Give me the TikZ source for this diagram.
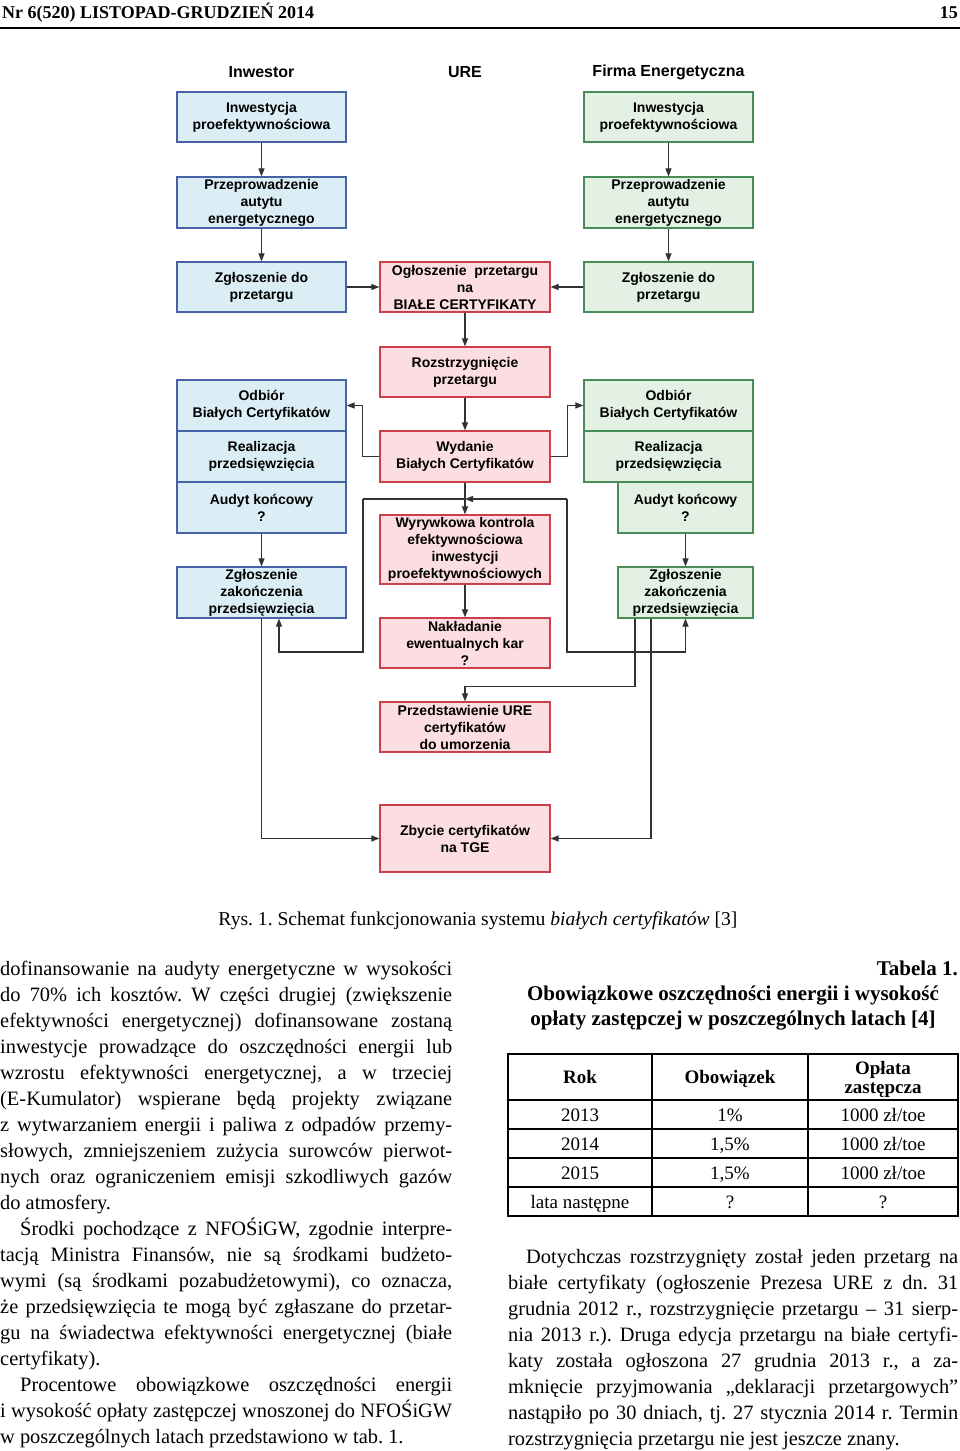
\documentclass[tikz,border=0pt]{standalone}
\usepackage{fontspec}
\setmainfont{Liberation Serif}
\newfontfamily\arialf{Liberation Sans}
\usetikzlibrary{arrows.meta}
\definecolor{bfill}{RGB}{220,238,245}
\definecolor{bline}{RGB}{72,98,168}
\definecolor{gfill}{RGB}{226,241,227}
\definecolor{gline}{RGB}{72,140,88}
\definecolor{rfill}{RGB}{252,222,226}
\definecolor{rline}{RGB}{205,62,72}
\definecolor{lnc}{RGB}{50,50,50}
\frenchspacing
\newlength{\colw}
\newcommand{\bodyfnt}{\fontsize{20.4}{26}\selectfont}
\newcommand{\fullln}[1]{\hbox to \colw{\spaceskip=0pt\xspaceskip=0pt #1}}
\newcommand{\lastln}[1]{\hbox to \colw{\spaceskip=0pt\xspaceskip=0pt #1\hfil}}
\tikzset{page/.style={x=1pt,y=-1pt}}
\tikzset{box/.style={draw,line width=1.2pt,inner sep=0pt,align=center,
           font=\arialf\bfseries\fontsize{14}{17}\selectfont},
         bbox/.style={box,draw=bline,fill=bfill,minimum width=169pt,minimum height=50pt},
         gbox/.style={box,draw=gline,fill=gfill,minimum width=169pt,minimum height=50pt},
         rbox/.style={box,draw=rline,fill=rfill,minimum width=170pt,minimum height=50pt},
         colhead/.style={font=\arialf\bfseries\fontsize{16}{18}\selectfont},
         conn/.style={lnc,line width=1.1pt},
         cell/.style={anchor=base,inner sep=0pt,font=\fontsize{19}{22}\selectfont}}

\begin{document}
\begin{tikzpicture}[page,>={Triangle[length=8pt,width=6pt]}]
    \useasboundingbox (0,0) rectangle (960,1451);
    \fill[white] (0,0) rectangle (960,1451);
    % page header
    \node[anchor=base west,inner sep=0pt,font=\bfseries\fontsize{18}{20}\selectfont] (nr) at (2,18) {Nr 6(520) LISTOPAD-GRUDZIEŃ 2014};
    \node[anchor=base east,inner sep=0pt,font=\bfseries\fontsize{18}{20}\selectfont] (pg) at (958,18) {15};
    \draw[line width=2.6pt] (0,28) -- (960,28);
    % column headings
    \node[colhead] (hInw) at (261.5,72) {Inwestor};
    \node[colhead] (hUre) at (465,72) {URE};
    \node[colhead] (hFir) at (668.5,72) {Firma Energetyczna};
    % Inwestor
    \node[bbox] (inw1) at (261.5,117) {Inwestycja\\proefektywnościowa};
    \node[bbox,minimum height=51pt] (inw2) at (261.5,202.5) {Przeprowadzenie\\autytu\\energetycznego};
    \node[bbox] (inw3) at (261.5,287) {Zgłoszenie do\\przetargu};
    \node[bbox,minimum height=51pt] (inwOdb) at (261.5,405.5) {Odbiór\\Białych Certyfikatów};
    \node[bbox,minimum height=51pt] (inwReal) at (261.5,456.5) {Realizacja\\przedsięwzięcia};
    \node[bbox,minimum height=51pt] (inwAud) at (261.5,507.5) {Audyt końcowy\\?};
    \node[bbox,minimum height=51pt] (inwZgl) at (261.5,592.5) {Zgłoszenie\\zakończenia\\przedsięwzięcia};
    % Firma Energetyczna
    \node[gbox] (fir1) at (668.5,117) {Inwestycja\\proefektywnościowa};
    \node[gbox,minimum height=51pt] (fir2) at (668.5,202.5) {Przeprowadzenie\\autytu\\energetycznego};
    \node[gbox] (fir3) at (668.5,287) {Zgłoszenie do\\przetargu};
    \node[gbox,minimum height=51pt] (firOdb) at (668.5,405.5) {Odbiór\\Białych Certyfikatów};
    \node[gbox,minimum height=51pt] (firReal) at (668.5,456.5) {Realizacja\\przedsięwzięcia};
    \node[gbox,minimum width=135pt,minimum height=51pt] (firAud) at (685.5,507.5) {Audyt końcowy\\?};
    \node[gbox,minimum width=135pt,minimum height=51pt] (firZgl) at (685.5,592.5) {Zgłoszenie\\zakończenia\\przedsięwzięcia};
    % URE
    \node[rbox] (ogl) at (465,287) {Ogłoszenie~ przetargu\\na\\BIAŁE CERTYFIKATY};
    \node[rbox] (roz) at (465,372) {Rozstrzygnięcie\\przetargu};
    \node[rbox,minimum height=51pt] (wyd) at (465,456.5) {Wydanie\\Białych Certyfikatów};
    \node[rbox,minimum height=69pt] (wyr) at (465,549.5) {Wyrywkowa kontrola\\efektywnościowa\\inwestycji\\proefektywnościowych};
    \node[rbox] (nak) at (465,643) {Nakładanie\\ewentualnych kar\\?};
    \node[rbox] (prz) at (465,727) {Przedstawienie URE\\certyfikatów\\do umorzenia};
    \node[rbox,minimum height=67pt] (zby) at (465,838.5) {Zbycie certyfikatów\\na TGE};
    % connectors
    \draw[conn,->] (inw1) -- (inw2);
    \draw[conn,->] (inw2) -- (inw3);
    \draw[conn,->] (fir1) -- (fir2);
    \draw[conn,->] (fir2) -- (fir3);
    \draw[conn,->] (inw3) -- (ogl);
    \draw[conn,->] (fir3) -- (ogl);
    \draw[conn,->] (ogl) -- (roz);
    \draw[conn,->] (roz) -- (wyd);
    \draw[conn,->] (wyd) -- (wyr);
    \draw[conn,->] (wyr) -- (nak);
    \draw[conn,->] (wyd.west) -- ++(-17,0) |- (inwOdb.east);
    \draw[conn,->] (wyd.east) -- ++(17,0) |- (firOdb.west);
    \draw[conn,->] (inwAud) -- (inwZgl);
    \draw[conn,->] (firAud) -- (firZgl);
    \coordinate (lpL) at (363,499);
    \coordinate (lpR) at (567,499);
    \draw[conn] (lpL) -- (wyd.south |- lpL);
    \draw[conn,->] (lpR) -- (wyd.south |- lpR);
    \draw[conn,->] (lpL) -- (363,652) -| ([xshift=17.5pt]inwZgl.south);
    \draw[conn,->] (lpR) -- (567,652) -| (firZgl.south);
    \draw[conn,->] ([xshift=-50.5pt]firZgl.south) -- ++(0,68) -| (prz.north);
    \draw[conn,->] (inwZgl.south) |- (zby.west);
    \draw[conn,->] ([xshift=-34.5pt]firZgl.south) |- (zby.east);
    % caption
    \node[anchor=base,inner sep=0pt,font=\fontsize{19.6}{22}\selectfont] (cap) at (478,925) {Rys.~1. Schemat funkcjonowania systemu \textit{białych certyfikatów} [3]};
    % left column text
    \node[anchor=north west,inner sep=0pt,text width=452pt,font=\bodyfnt] (txtL) at (0,961) {%
      \colw=452pt
      \fullln{dofinansowanie na audyty energetyczne w wysokości}
      \fullln{do 70\% ich kosztów. W części drugiej (zwiększenie}
      \fullln{efektywności energetycznej) dofinansowane zostaną}
      \fullln{inwestycje prowadzące do oszczędności energii lub}
      \fullln{wzrostu efektywności energetycznej, a w trzeciej}
      \fullln{(E-Kumulator) wspierane będą projekty związane}
      \fullln{z wytwarzaniem energii i paliwa z odpadów przemy-}
      \fullln{słowych, zmniejszeniem zużycia surowców pierwot-}
      \fullln{nych oraz ograniczeniem emisji szkodliwych gazów}
      \lastln{do atmosfery.}
      \fullln{\hskip20pt Środki pochodzące z NFOŚiGW, zgodnie interpre-}
      \fullln{tacją Ministra Finansów, nie są środkami budżeto-}
      \fullln{wymi (są środkami pozabudżetowymi), co oznacza,}
      \fullln{że przedsięwzięcia te mogą być zgłaszane do przetar-}
      \fullln{gu na świadectwa efektywności energetycznej (białe}
      \lastln{certyfikaty).}
      \fullln{\hskip20pt Procentowe obowiązkowe oszczędności energii}
      \fullln{i wysokość opłaty zastępczej wnoszonej do NFOŚiGW}
      \lastln{w poszczególnych latach przedstawiono w tab. 1.}};
    % table title
    \node[anchor=base east,inner sep=0pt,font=\bfseries\fontsize{21}{24}\selectfont] (tabNo) at (958,975) {Tabela 1.};
    \node[anchor=base,inner sep=0pt,font=\bfseries\fontsize{21}{24}\selectfont] (tabT1) at (733,1000) {Obowiązkowe oszczędności energii i wysokość};
    \node[anchor=base,inner sep=0pt,font=\bfseries\fontsize{21}{24}\selectfont] (tabT2) at (733,1025) {opłaty zastępczej w poszczególnych latach [4]};
    % table
    \draw[line width=1.1pt] (508,1054) rectangle (958,1216);
    \foreach \y in {1100,1129,1158,1187} \draw[line width=1.1pt] (508,\y) -- (958,\y);
    \foreach \x in {652,808} \draw[line width=1.1pt] (\x,1054) -- (\x,1216);
    \node[cell,font=\bfseries\fontsize{19}{22}\selectfont] (hRok) at (580,1083.5) {Rok};
    \node[cell,font=\bfseries\fontsize{19}{22}\selectfont] (hObo) at (730,1083.5) {Obowiązek};
    \node[cell,font=\bfseries\fontsize{19}{22}\selectfont] (hOpl) at (883,1074) {Opłata};
    \node[cell,font=\bfseries\fontsize{19}{22}\selectfont] (hZas) at (883,1093) {zastępcza};
    \foreach \yr/\ob/\op [count=\i] in {2013/{1\%}/{1000 zł/toe},2014/{1,5\%}/{1000 zł/toe},2015/{1,5\%}/{1000 zł/toe},{lata następne}/?/?} {
      \node[cell] (yr\i) at (580,{1092+29*\i}) {\yr};
      \node[cell] (ob\i) at (730,{1092+29*\i}) {\ob};
      \node[cell] (op\i) at (883,{1092+29*\i}) {\op};
    }
    % right column text
    \node[anchor=north west,inner sep=0pt,text width=450pt,font=\bodyfnt] (txtR) at (508,1249) {%
      \colw=450pt
      \fullln{\hskip18pt Dotychczas rozstrzygnięty został jeden przetarg na}
      \fullln{białe certyfikaty (ogłoszenie Prezesa URE z dn. 31}
      \fullln{grudnia 2012 r., rozstrzygnięcie przetargu -- 31 sierp-}
      \fullln{nia 2013 r.). Druga edycja przetargu na białe certyfi-}
      \fullln{katy została ogłoszona 27 grudnia 2013 r., a za-}
      \fullln{mknięcie przyjmowania „deklaracji przetargowych”}
      \fullln{nastąpiło po 30 dniach, tj. 27 stycznia 2014 r. Termin}
      \lastln{rozstrzygnięcia przetargu nie jest jeszcze znany.}};
\end{tikzpicture}
\end{document}
